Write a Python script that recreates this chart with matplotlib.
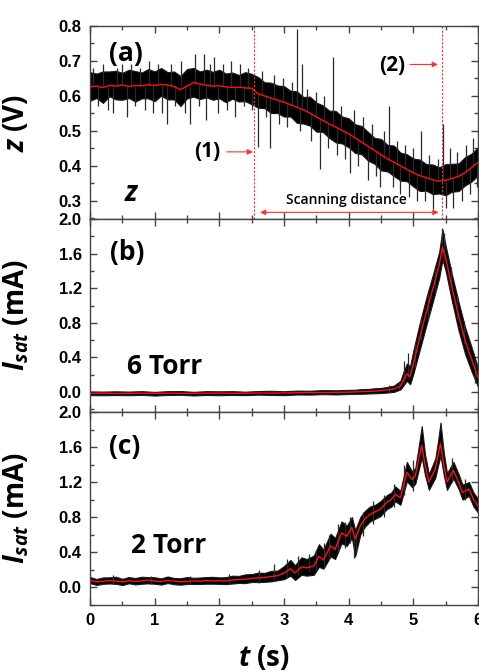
import matplotlib
matplotlib.use('Agg')
import numpy as np
import matplotlib.pyplot as plt
from matplotlib.ticker import MultipleLocator

plt.rcParams['font.family'] = ['Open Sans', 'DejaVu Sans']
plt.rcParams['mathtext.fontset'] = 'custom'
plt.rcParams['mathtext.it'] = 'Open Sans:italic:bold'
plt.rcParams['mathtext.rm'] = 'Open Sans:bold'
plt.rcParams['mathtext.bf'] = 'Open Sans:bold'

# ---- panel (a): probe height z (V), smoothed trace + noise envelope ----
t_a = np.round(np.arange(0, 6.01, 0.1), 2)
z_mean = [0.626, 0.628, 0.624, 0.630, 0.628, 0.631, 0.627, 0.630, 0.629, 0.632,
          0.630, 0.633, 0.631, 0.627, 0.618, 0.628, 0.638, 0.634, 0.630, 0.628,
          0.629, 0.626, 0.624, 0.625, 0.623, 0.622, 0.606, 0.600, 0.594, 0.588,
          0.582, 0.575, 0.568, 0.560, 0.551, 0.540, 0.530, 0.520, 0.511, 0.501,
          0.492, 0.480, 0.468, 0.456, 0.444, 0.432, 0.420, 0.411, 0.400, 0.390,
          0.380, 0.372, 0.366, 0.360, 0.356, 0.359, 0.364, 0.370, 0.380, 0.395, 0.410]
z_up = [0.042, 0.036, 0.046, 0.040, 0.044, 0.035, 0.048, 0.041, 0.038, 0.045,
        0.040, 0.047, 0.037, 0.043, 0.039, 0.049, 0.042, 0.036, 0.045, 0.041,
        0.046, 0.038, 0.043, 0.035, 0.045, 0.041, 0.048, 0.039, 0.044, 0.042,
        0.046, 0.040, 0.045, 0.037, 0.047, 0.041, 0.043, 0.038, 0.046, 0.040,
        0.044, 0.039, 0.046, 0.041, 0.036, 0.045, 0.040, 0.047, 0.038, 0.043,
        0.041, 0.046, 0.039, 0.044, 0.040, 0.046, 0.042, 0.037, 0.045, 0.040, 0.043]
z_dn = [0.040, 0.034, 0.044, 0.031, 0.038, 0.042, 0.033, 0.046, 0.036, 0.039,
        0.045, 0.032, 0.041, 0.037, 0.047, 0.035, 0.040, 0.043, 0.034, 0.039,
        0.036, 0.044, 0.032, 0.041, 0.038, 0.046, 0.040, 0.035, 0.043, 0.037,
        0.041, 0.034, 0.045, 0.039, 0.036, 0.042, 0.033, 0.040, 0.044, 0.037,
        0.039, 0.043, 0.035, 0.041, 0.038, 0.045, 0.036, 0.040, 0.042, 0.034,
        0.039, 0.044, 0.037, 0.041, 0.035, 0.043, 0.038, 0.042, 0.036, 0.040, 0.037]
# isolated noise spikes: time, low end, high end
spk_a_t = [0.05, 0.12, 0.20, 0.28, 0.35, 0.42, 0.50, 0.57, 0.63, 0.70, 0.78, 0.85,
           0.92, 0.98, 1.05, 1.12, 1.19, 1.25, 1.32, 1.40, 1.47, 1.55, 1.62, 1.68,
           1.76, 1.80, 1.86, 1.92, 1.98, 2.05, 2.12, 2.18, 2.25, 2.32, 2.38, 2.45,
           2.50, 2.60, 2.66, 2.72, 2.79, 2.85, 2.92, 2.98, 3.05, 3.12, 3.20, 3.25,
           3.28, 3.35, 3.42, 3.50, 3.56, 3.62, 3.68, 3.75, 3.82, 3.88, 3.95, 4.02,
           4.08, 4.15, 4.22, 4.30, 4.36, 4.43, 4.49, 4.55, 4.62, 4.68, 4.75, 4.80,
           4.87, 4.93, 5.00, 5.06, 5.12, 5.18, 5.25, 5.31, 5.38, 5.46, 5.50, 5.56,
           5.62, 5.68, 5.75, 5.82, 5.88, 5.93, 5.98]
spk_a_lo = [0.628, 0.57, 0.628, 0.56, 0.55, 0.628, 0.628, 0.54, 0.628, 0.57, 0.628, 0.56,
            0.630, 0.55, 0.630, 0.55, 0.52, 0.630, 0.57, 0.628, 0.55, 0.52, 0.636, 0.57,
            0.632, 0.53, 0.630, 0.628, 0.55, 0.628, 0.56, 0.625, 0.54, 0.625, 0.57, 0.623,
            0.56, 0.455, 0.603, 0.54, 0.45, 0.591, 0.52, 0.584, 0.51, 0.573, 0.568, 0.50,
            0.562, 0.553, 0.47, 0.540, 0.39, 0.528, 0.45, 0.515, 0.43, 0.505, 0.42, 0.38,
            0.483, 0.40, 0.468, 0.36, 0.449, 0.37, 0.34, 0.426, 0.418, 0.34, 0.405, 0.32,
            0.393, 0.31, 0.380, 0.30, 0.370, 0.30, 0.363, 0.276, 0.357, 0.357, 0.28, 0.361,
            0.28, 0.368, 0.30, 0.382, 0.32, 0.400, 0.34]
spk_a_hi = [0.68, 0.628, 0.69, 0.628, 0.628, 0.68, 0.69, 0.628, 0.69, 0.628, 0.68, 0.628,
            0.70, 0.630, 0.69, 0.630, 0.630, 0.69, 0.630, 0.70, 0.628, 0.628, 0.72, 0.634,
            0.72, 0.630, 0.69, 0.71, 0.628, 0.69, 0.627, 0.70, 0.625, 0.69, 0.625, 0.68,
            0.623, 0.606, 0.67, 0.600, 0.594, 0.66, 0.588, 0.65, 0.580, 0.64, 0.79, 0.565,
            0.69, 0.62, 0.551, 0.61, 0.534, 0.60, 0.524, 0.71, 0.512, 0.57, 0.498, 0.490,
            0.56, 0.474, 0.54, 0.456, 0.52, 0.440, 0.432, 0.50, 0.57, 0.415, 0.47, 0.400,
            0.46, 0.388, 0.45, 0.376, 0.50, 0.366, 0.43, 0.360, 0.42, 0.52, 0.359, 0.45,
            0.364, 0.44, 0.376, 0.46, 0.390, 0.48, 0.405]

# ---- panel (b): Isat at 6 Torr ----
t_b = [0.0, 0.2, 0.4, 0.6, 0.8, 1.0, 1.2, 1.4, 1.6, 1.8, 2.0, 2.2, 2.4, 2.6, 2.8,
       3.0, 3.2, 3.4, 3.6, 3.8, 4.0,
       4.1, 4.2, 4.3, 4.4, 4.5, 4.6, 4.7, 4.8, 4.85, 4.9, 4.95, 5.0, 5.1, 5.2,
       5.3, 5.4, 5.45, 5.5, 5.6, 5.7, 5.8, 5.9, 6.0]
isat_b = [-0.015, -0.012, -0.016, -0.014, -0.013, -0.015, -0.012, -0.014, -0.016,
          -0.013, -0.012, -0.014, -0.013, -0.011, -0.012, -0.010, -0.008, -0.006,
          -0.005, -0.003, 0.000,
          0.002, 0.005, 0.008, 0.012, 0.018, 0.025, 0.035, 0.070, 0.140, 0.210,
          0.180, 0.330, 0.630, 0.920, 1.190, 1.470, 1.670, 1.550, 1.200, 0.880,
          0.600, 0.380, 0.170]
up_b = [0.022, 0.018, 0.025, 0.020, 0.024, 0.017, 0.023, 0.026, 0.019, 0.024,
        0.021, 0.025, 0.018, 0.023, 0.027, 0.020, 0.025, 0.022, 0.028, 0.024, 0.026,
        0.025, 0.030, 0.028, 0.032, 0.030, 0.035, 0.040, 0.060, 0.100, 0.120,
        0.120, 0.150, 0.170, 0.170, 0.160, 0.150, 0.210, 0.140, 0.150, 0.160,
        0.150, 0.140, 0.110]
dn_b = [0.020, 0.024, 0.018, 0.022, 0.019, 0.025, 0.021, 0.017, 0.023, 0.020,
        0.024, 0.019, 0.022, 0.018, 0.021, 0.025, 0.020, 0.023, 0.019, 0.024, 0.022,
        0.022, 0.025, 0.024, 0.026, 0.028, 0.030, 0.032, 0.040, 0.060, 0.080,
        0.090, 0.120, 0.140, 0.150, 0.150, 0.150, 0.140, 0.150, 0.160, 0.170,
        0.160, 0.140, 0.110]
spk_b_t = [4.62, 4.78, 4.86, 4.92, 5.02, 5.12, 5.22, 5.33, 5.44, 5.47, 5.58, 5.68, 5.78, 5.96]
spk_b_lo = [0.0, 0.02, 0.10, 0.15, 0.30, 0.60, 0.85, 1.15, 1.55, 1.50, 1.20, 0.85, 0.55, 0.10]
spk_b_hi = [0.08, 0.12, 0.36, 0.45, 0.58, 0.86, 1.16, 1.45, 1.90, 1.84, 1.45, 1.12, 0.82, 0.38]

# ---- panel (c): Isat at 2 Torr ----
t_c = [0.0, 0.1, 0.2, 0.3, 0.4, 0.5, 0.6, 0.7, 0.8, 0.9, 1.0, 1.1, 1.2, 1.3, 1.4,
       1.5, 1.6, 1.7, 1.8, 1.9, 2.0, 2.1, 2.2, 2.3, 2.4, 2.5, 2.6, 2.7, 2.8, 2.9,
       3.0, 3.1, 3.17, 3.27, 3.35, 3.46, 3.54, 3.61, 3.72, 3.79, 3.89, 3.97, 4.05,
       4.10, 4.18, 4.25, 4.33, 4.41, 4.49, 4.59, 4.66, 4.72, 4.80, 4.90, 4.98,
       5.03, 5.08, 5.13, 5.18, 5.24, 5.34, 5.38, 5.42, 5.47, 5.52, 5.62, 5.70,
       5.76, 5.86, 5.93, 6.0]
isat_c = [0.075, 0.060, 0.065, 0.075, 0.068, 0.060, 0.072, 0.065, 0.070, 0.080,
          0.068, 0.062, 0.075, 0.068, 0.060, 0.065, 0.070, 0.066, 0.075, 0.070,
          0.072, 0.068, 0.080, 0.085, 0.090, 0.100, 0.105, 0.110, 0.120, 0.130,
          0.16, 0.21, 0.16, 0.23, 0.22, 0.24, 0.35, 0.31, 0.47, 0.43,
          0.62, 0.58, 0.68, 0.55, 0.70, 0.78, 0.83, 0.86, 0.89, 0.97,
          1.00, 1.06, 1.02, 1.31, 1.23, 1.27, 1.45, 1.62, 1.40, 1.20,
          1.35, 1.50, 1.64, 1.40, 1.20, 1.33, 1.20, 1.08, 1.12, 1.00, 0.93]
up_c = [0.040, 0.032, 0.045, 0.036, 0.050, 0.034, 0.042, 0.038, 0.048, 0.033,
        0.044, 0.037, 0.046, 0.035, 0.041, 0.049, 0.036, 0.043, 0.039, 0.047,
        0.038, 0.045, 0.050, 0.042, 0.055, 0.048, 0.060, 0.052, 0.065, 0.058,
        0.08, 0.10, 0.09, 0.11, 0.10, 0.12, 0.14, 0.12, 0.14, 0.13,
        0.13, 0.12, 0.12, 0.10, 0.10, 0.09, 0.09, 0.08, 0.09, 0.08,
        0.08, 0.09, 0.08, 0.12, 0.09, 0.09, 0.14, 0.22, 0.12, 0.09,
        0.12, 0.16, 0.24, 0.14, 0.10, 0.10, 0.09, 0.09, 0.08, 0.08, 0.08]
dn_c = [0.030, 0.036, 0.028, 0.034, 0.031, 0.037, 0.029, 0.035, 0.032, 0.038,
        0.030, 0.034, 0.029, 0.036, 0.033, 0.030, 0.035, 0.031, 0.037, 0.032,
        0.036, 0.034, 0.040, 0.038, 0.045, 0.042, 0.048, 0.050, 0.055, 0.052,
        0.07, 0.08, 0.08, 0.09, 0.09, 0.10, 0.12, 0.10, 0.12, 0.11,
        0.12, 0.11, 0.12, 0.20, 0.10, 0.09, 0.08, 0.08, 0.08, 0.08,
        0.08, 0.08, 0.08, 0.10, 0.09, 0.09, 0.12, 0.14, 0.12, 0.09,
        0.10, 0.12, 0.14, 0.12, 0.09, 0.09, 0.08, 0.08, 0.08, 0.08, 0.08]
spk_c_t = [0.35, 0.95, 1.55, 2.15, 2.62, 2.85, 3.05, 3.22, 3.38, 3.50, 3.62, 3.70,
           3.84, 3.94, 4.02, 4.09, 4.12, 4.22, 4.38, 4.54, 4.70, 4.86, 5.00, 5.60, 5.80]
spk_c_lo = [0.03, 0.03, 0.03, 0.04, 0.05, 0.08, 0.12, 0.14, 0.17, 0.20, 0.24, 0.32,
            0.40, 0.45, 0.50, 0.33, 0.40, 0.58, 0.72, 0.80, 0.92, 1.05, 1.10, 1.20, 1.00]
spk_c_hi = [0.14, 0.13, 0.13, 0.15, 0.20, 0.26, 0.32, 0.36, 0.38, 0.42, 0.50, 0.60,
            0.72, 0.74, 0.80, 0.55, 0.62, 0.86, 0.98, 1.05, 1.18, 1.40, 1.45, 1.48, 1.24]

# scan markers
scan_start, scan_end = 2.54, 5.44

panels = [
    (t_a, z_mean, z_up, z_dn, (0.248, 0.8), (spk_a_t, spk_a_lo, spk_a_hi)),
    (t_b, isat_b, up_b, dn_b, (-0.23, 2.0), (spk_b_t, spk_b_lo, spk_b_hi)),
    (t_c, isat_c, up_c, dn_c, (-0.205, 2.0), (spk_c_t, spk_c_lo, spk_c_hi)),
]

fig = plt.figure(figsize=(4.79, 6.72), dpi=100)
left, right, top, bottom = 90 / 479, 478 / 479, 1 - 26 / 672, 1 - 605 / 672
h = (top - bottom) / 3
axes = [fig.add_axes([left, top - (i + 1) * h, right - left, h]) for i in range(3)]

tick_font = dict(family=['Liberation Sans', 'DejaVu Sans'], weight='bold', size=12)

for i, (ax, (t, m, up, dn, ylim, spk)) in enumerate(zip(axes, panels)):
    t = np.asarray(t, float)
    m = np.asarray(m, float)
    ax.fill_between(t, m + np.asarray(up), m - np.asarray(dn), color='black',
                    lw=0.8, edgecolor='#1a1a1a', zorder=2)
    ax.vlines(spk[0], spk[1], spk[2], color='#2a2a2a', lw=0.9, zorder=3)
    ax.plot(t, m, color='#ff1010', lw=1.0, zorder=4)
    ax.set_xlim(0, 6)
    ax.set_ylim(*ylim)
    ax.xaxis.set_major_locator(MultipleLocator(1))
    ax.xaxis.set_minor_locator(MultipleLocator(0.5))
    ax.tick_params(which='both', direction='in', top=True, right=True,
                   color='#444444', width=1)
    ax.tick_params(which='major', length=5, pad=6)
    ax.tick_params(which='minor', length=3)
    for s in ax.spines.values():
        s.set_color('#444444')
        s.set_linewidth(1.0)
    if i < 2:
        ax.tick_params(labelbottom=False)

ax_a, ax_b, ax_c = axes

ax_a.set_yticks([0.3, 0.4, 0.5, 0.6, 0.7, 0.8])
ax_a.yaxis.set_minor_locator(MultipleLocator(0.05))
for ax in (ax_b, ax_c):
    ax.set_yticks([0.0, 0.4, 0.8, 1.2, 1.6, 2.0])
    ax.yaxis.set_minor_locator(MultipleLocator(0.2))
for ax in axes:
    for lab in ax.get_yticklabels() + ax.get_xticklabels():
        lab.set_fontproperties(tick_font)

# axis labels
ax_a.set_ylabel(r'$z$ (V)', fontsize=20, fontweight='bold')
ax_b.set_ylabel(r'$I_{sat}$ (mA)', fontsize=20, fontweight='bold')
ax_c.set_ylabel(r'$I_{sat}$ (mA)', fontsize=20, fontweight='bold')
for ax in axes:
    ax.yaxis.set_label_coords(-0.152, 0.5)
ax_c.set_xlabel(r'$t$ (s)', fontsize=20, fontweight='bold')
ax_c.xaxis.set_label_coords(0.448, -0.2)

# panel tags
big = dict(fontsize=19, fontweight='bold', ha='center', va='center')
ax_a.text(0.56, 0.722, '(a)', **big)
ax_b.text(0.57, 1.61, '(b)', **big)
ax_c.text(0.54, 1.61, '(c)', **big)
ax_b.text(1.16, 0.30, '6 Torr', **big)
ax_c.text(1.21, 0.47, '2 Torr', **big)
ax_a.text(0.65, 0.32, r'$z$', fontsize=20, ha='center', va='center')

# scan markers
for x in (scan_start, scan_end):
    ax_a.axvline(x, color='#ff3030', lw=0.8, ls=(0, (2, 1.5)), zorder=5)
ax_a.text(1.81, 0.44, '(1)', fontsize=15, fontweight='bold', ha='center', va='center')
ax_a.annotate('', xy=(scan_start - 0.02, 0.44), xytext=(2.12, 0.44),
              arrowprops=dict(arrowstyle='-|>', color='#ff3030', lw=0.8,
                              mutation_scale=8, shrinkA=0, shrinkB=0))
ax_a.text(4.68, 0.688, '(2)', fontsize=15, fontweight='bold', ha='center', va='center')
ax_a.annotate('', xy=(scan_end - 0.06, 0.69), xytext=(4.95, 0.69),
              arrowprops=dict(arrowstyle='-|>', color='#ff3030', lw=0.8,
                              mutation_scale=8, shrinkA=0, shrinkB=0))
ax_a.text(3.96, 0.302, 'Scanning distance', fontsize=10, fontweight='semibold',
          ha='center', va='center')
ax_a.annotate('', xy=(5.39, 0.267), xytext=(2.63, 0.267),
              arrowprops=dict(arrowstyle='<|-|>', color='#ff3030', lw=0.8,
                              mutation_scale=8, shrinkA=0, shrinkB=0))

fig.savefig('out.png', dpi=100)
